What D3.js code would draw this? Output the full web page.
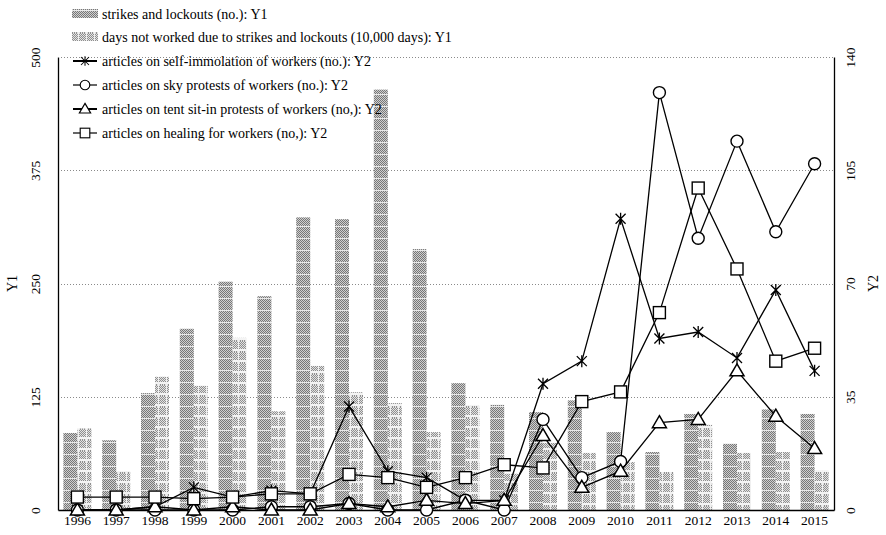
<!DOCTYPE html>
<html>
<head>
<meta charset="utf-8">
<script src="https://cdn.jsdelivr.net/npm/d3@7"></script>
<style>
  html, body { margin: 0; padding: 0; background: #fff; }
  svg { display: block; }
  text { font-family: "Liberation Serif", "DejaVu Serif", serif; fill: #000; }
</style>
</head>
<body>
<svg id="chart" width="886" height="535"></svg>
<script>
// Years on the x axis
const years = ["1996","1997","1998","1999","2000","2001","2002","2003","2004","2005",
               "2006","2007","2008","2009","2010","2011","2012","2013","2014","2015"];

// Y1 series (bars)
const strikes = [85, 77, 129, 200, 252, 236, 323, 321, 464, 288, 140, 116, 108, 121, 86, 64, 106, 73, 111, 106];
const daysNotWorked = [90, 43, 147, 137, 190, 109, 159, 130, 118, 86, 116, 40, 74, 63, 53, 42, 94, 63, 64, 44];

// Y2 series (lines)
const selfImmolation = [0, 0, 1, 7, 4, 6, 5, 32, 12, 10, 3, 3, 39, 46, 90, 53, 55, 47, 68, 43];
const skyProtests    = [0, 0, 0, 0, 0, 1, 1, 2, 0, 0, 3, 0, 28, 10, 15, 129, 84, 114, 86, 107];
const tentSitIn      = [0, 0, 1, 0, 1, 0, 0, 2, 1, 3, 2, 3, 23, 7, 12, 27, 28, 43, 29, 19];
const healing        = [4, 4, 4, 3.5, 4, 5, 5, 11, 10, 7, 10, 14, 13, 33.5, 36.5, 61, 99.5, 74.5, 46, 50];

// Axis ticks
const y1Ticks = [0, 125, 250, 375, 500];
const y2Ticks = [0, 35, 70, 105, 140];

const W = 886, H = 535;
const margin = { top: 57, right: 52, bottom: 25, left: 58 };
const svg = d3.select("#chart");
const defs = svg.append("defs");

// Dithered fills for the bars
function checker(id, dark, light) {
  const p = defs.append("pattern").attr("id", id).attr("width", 2).attr("height", 2)
    .attr("patternUnits", "userSpaceOnUse");
  p.append("rect").attr("width", 2).attr("height", 2).attr("fill", light);
  p.append("rect").attr("width", 1).attr("height", 1).attr("fill", dark);
  p.append("rect").attr("x", 1).attr("y", 1).attr("width", 1).attr("height", 1).attr("fill", dark);
}
checker("chkDark", "#777777", "#cfcfcf");
checker("chkLight", "#8f8f8f", "#e2e2e2");

const pStrike = defs.append("pattern").attr("id", "patStrike").attr("width", 8).attr("height", 12)
  .attr("patternUnits", "userSpaceOnUse");
pStrike.append("rect").attr("width", 8).attr("height", 12).attr("fill", "url(#chkDark)");
pStrike.append("rect").attr("y", 10).attr("width", 8).attr("height", 1).attr("fill", "#e8e8e8");

const pDays = defs.append("pattern").attr("id", "patDays").attr("width", 8).attr("height", 11)
  .attr("patternUnits", "userSpaceOnUse");
pDays.append("rect").attr("width", 8).attr("height", 11).attr("fill", "url(#chkLight)");
pDays.append("rect").attr("y", 8).attr("width", 8).attr("height", 2).attr("fill", "#f4f4f4");
pDays.append("rect").attr("x", 6).attr("width", 1).attr("height", 11).attr("fill", "#f0f0f0");

const x = d3.scaleBand().domain(years).range([margin.left, W - margin.right]).padding(0);
const y1 = d3.scaleLinear().domain([0, 500]).range([H - margin.bottom, margin.top]);
const y2 = d3.scaleLinear().domain([0, 140]).range([H - margin.bottom, margin.top]);

// Dotted grid lines
svg.append("g").selectAll("line").data(y1Ticks.filter(d => d > 0)).join("line")
  .attr("x1", margin.left).attr("x2", W - margin.right)
  .attr("y1", d => Math.round(y1(d)) + 0.5).attr("y2", d => Math.round(y1(d)) + 0.5)
  .attr("stroke", "#8a8a8a").attr("stroke-width", 1).attr("stroke-dasharray", "1,2");

// Bars
const bw = 14;
const bars = svg.append("g");
bars.selectAll("rect.s").data(years).join("rect").attr("class", "s")
  .attr("x", d => x(d) + x.bandwidth() / 2 - bw)
  .attr("width", bw)
  .attr("y", (d, i) => y1(strikes[i]))
  .attr("height", (d, i) => y1(0) - y1(strikes[i]))
  .attr("fill", "url(#patStrike)");
bars.selectAll("rect.d").data(years).join("rect").attr("class", "d")
  .attr("x", d => x(d) + x.bandwidth() / 2)
  .attr("width", bw)
  .attr("y", (d, i) => y1(daysNotWorked[i]))
  .attr("height", (d, i) => y1(0) - y1(daysNotWorked[i]))
  .attr("fill", "url(#patDays)");

// Axes frame
const axL = svg.append("g").attr("transform", `translate(${margin.left},0)`)
  .call(d3.axisLeft(y1).tickValues(y1Ticks).tickSize(0).tickFormat(d3.format("d")));
const axR = svg.append("g").attr("transform", `translate(${W - margin.right},0)`)
  .call(d3.axisRight(y2).tickValues(y2Ticks).tickSize(0).tickFormat(d3.format("d")));
const axB = svg.append("g").attr("transform", `translate(0,${H - margin.bottom})`)
  .call(d3.axisBottom(x).tickSize(0));
[axL, axR, axB].forEach(g => {
  g.select(".domain").attr("stroke", "#000").attr("stroke-width", 1.3);
  g.selectAll("text").style("font-family", "'Liberation Serif', serif").attr("font-size", 13.5);
});
axL.selectAll(".tick text").attr("x", 0).attr("text-anchor", "middle")
  .attr("transform", "translate(-22,0) rotate(-90)").attr("dy", "0.32em");
axR.selectAll(".tick text").attr("x", 0).attr("text-anchor", "middle")
  .attr("transform", "translate(17,0) rotate(-90)").attr("dy", "0.32em");
axB.selectAll(".tick text").attr("dy", "0.9em");
// Top edge is a dotted rule
svg.append("line").attr("x1", margin.left).attr("x2", W - margin.right)
  .attr("y1", margin.top + 0.5).attr("y2", margin.top + 0.5)
  .attr("stroke", "#8a8a8a").attr("stroke-dasharray", "1,2");

// Axis titles
svg.append("text").attr("transform", `translate(17,${(margin.top + H - margin.bottom) / 2}) rotate(-90)`)
  .attr("text-anchor", "middle").attr("font-size", 14).text("Y1");
svg.append("text").attr("transform", `translate(878,${(margin.top + H - margin.bottom) / 2}) rotate(-90)`)
  .attr("text-anchor", "middle").attr("font-size", 14).text("Y2");

// Marker shapes
function drawMarker(g, type, cx, cy) {
  if (type === "star") {
    g.append("path").attr("d",
      `M${cx - 5},${cy - 5}L${cx + 5},${cy + 5}M${cx - 5},${cy + 5}L${cx + 5},${cy - 5}M${cx},${cy - 6}L${cx},${cy + 6}`)
      .attr("stroke", "#000").attr("stroke-width", 1.3).attr("fill", "none");
  } else if (type === "circle") {
    g.append("circle").attr("cx", cx).attr("cy", cy).attr("r", 6)
      .attr("fill", "#fff").attr("stroke", "#000").attr("stroke-width", 1.4);
  } else if (type === "triangle") {
    g.append("path").attr("d", `M${cx},${cy - 7}L${cx + 7},${cy + 5}L${cx - 7},${cy + 5}Z`)
      .attr("fill", "#fff").attr("stroke", "#000").attr("stroke-width", 1.5);
  } else if (type === "square") {
    g.append("rect").attr("x", cx - 6).attr("y", cy - 6).attr("width", 12).attr("height", 12)
      .attr("fill", "#fff").attr("stroke", "#000").attr("stroke-width", 1.4);
  }
}

const lineSeries = [
  { values: selfImmolation, marker: "star" },
  { values: skyProtests, marker: "circle" },
  { values: tentSitIn, marker: "triangle" },
  { values: healing, marker: "square" }
];
const lineGen = d3.line().x(d => d[0]).y(d => d[1]);
lineSeries.forEach(s => {
  const pts = years.map((yr, i) => [x(yr) + x.bandwidth() / 2, y2(s.values[i])]);
  const g = svg.append("g");
  g.append("path").attr("d", lineGen(pts)).attr("fill", "none")
    .attr("stroke", "#000").attr("stroke-width", 1.3);
  pts.forEach(p => drawMarker(g, s.marker, p[0], p[1]));
});

// Legend
const legend = svg.append("g");
const legRows = [
  { kind: "bar", fill: "url(#patStrike)", label: "strikes and lockouts (no.): Y1", y: 14 },
  { kind: "bar", fill: "url(#patDays)", label: "days not worked due to strikes and lockouts (10,000 days): Y1", y: 37 },
  { kind: "line", marker: "star", width: 2, label: "articles on self-immolation of workers (no.): Y2", y: 61 },
  { kind: "line", marker: "circle", width: 1.2, label: "articles on sky protests of workers (no.): Y2", y: 85 },
  { kind: "line", marker: "triangle", width: 2, label: "articles on tent sit-in protests of workers (no,): Y2", y: 109 },
  { kind: "line", marker: "square", width: 1.2, label: "articles on healing for workers (no,): Y2", y: 133 }
];
legRows.forEach(r => {
  const g = legend.append("g");
  if (r.kind === "bar") {
    g.append("rect").attr("x", 72).attr("y", r.y - 5).attr("width", 26).attr("height", 9).attr("fill", r.fill);
  } else {
    g.append("line").attr("x1", 73).attr("x2", 97).attr("y1", r.y).attr("y2", r.y)
      .attr("stroke", "#000").attr("stroke-width", r.width);
    const mg = g.append("g").attr("transform", `translate(85,${r.y}) scale(0.8) translate(-85,${-r.y})`);
    drawMarker(mg, r.marker, 85, r.y);
  }
  g.append("text").attr("x", 102).attr("y", r.y).attr("dy", "0.35em")
    .attr("font-size", 14).text(r.label);
});
</script>
</body>
</html>
